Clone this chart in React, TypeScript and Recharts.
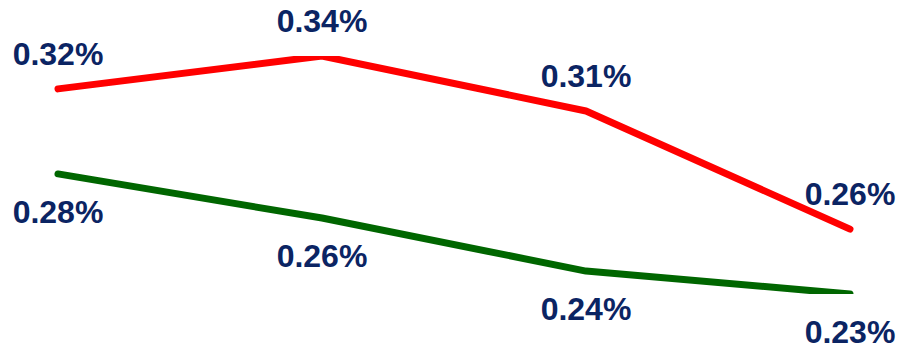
import React from "react";
import { LineChart, Line, XAxis, YAxis, LabelList } from "recharts";

const categories = ["P1", "P2", "P3", "P4"];
const redValues = [0.3248, 0.34, 0.3146, 0.26];
const greenValues = [0.2855, 0.2651, 0.2406, 0.23];
const redLabels = ["0.32%", "0.34%", "0.31%", "0.26%"];
const greenLabels = ["0.28%", "0.26%", "0.24%", "0.23%"];

const data = categories.map((c, i) => ({
  name: c,
  red: redValues[i],
  green: greenValues[i],
}));

const LABEL_COLOR = "#0b2463";
const FONT = "'Liberation Sans', Arial, sans-serif";

const makeLabel = (labels: string[], dy: number) => (props: any) => {
  const { x, y, index } = props;
  return (
    <text
      x={x}
      y={y + dy}
      textAnchor="middle"
      fill={LABEL_COLOR}
      fontFamily={FONT}
      fontWeight="bold"
      fontSize={32}
    >
      {labels[index]}
    </text>
  );
};

export default function App() {
  return (
    <div style={{ position: "absolute", left: 0, top: 0, background: "#fff" }}>
      <LineChart
        width={899}
        height={349}
        data={data}
        margin={{ top: 56, right: 49, bottom: 55, left: 58 }}
      >
        <XAxis dataKey="name" hide />
        <YAxis hide domain={[0.23, 0.34]} allowDataOverflow />
        <Line
          type="linear"
          dataKey="red"
          stroke="#ff0000"
          strokeWidth={7}
          strokeLinecap="round"
          strokeLinejoin="round"
          dot={false}
          isAnimationActive={false}
        >
          <LabelList dataKey="red" content={makeLabel(redLabels, -24)} />
        </Line>
        <Line
          type="linear"
          dataKey="green"
          stroke="#006600"
          strokeWidth={7}
          strokeLinecap="round"
          strokeLinejoin="round"
          dot={false}
          isAnimationActive={false}
        >
          <LabelList dataKey="green" content={makeLabel(greenLabels, 49)} />
        </Line>
      </LineChart>
    </div>
  );
}
